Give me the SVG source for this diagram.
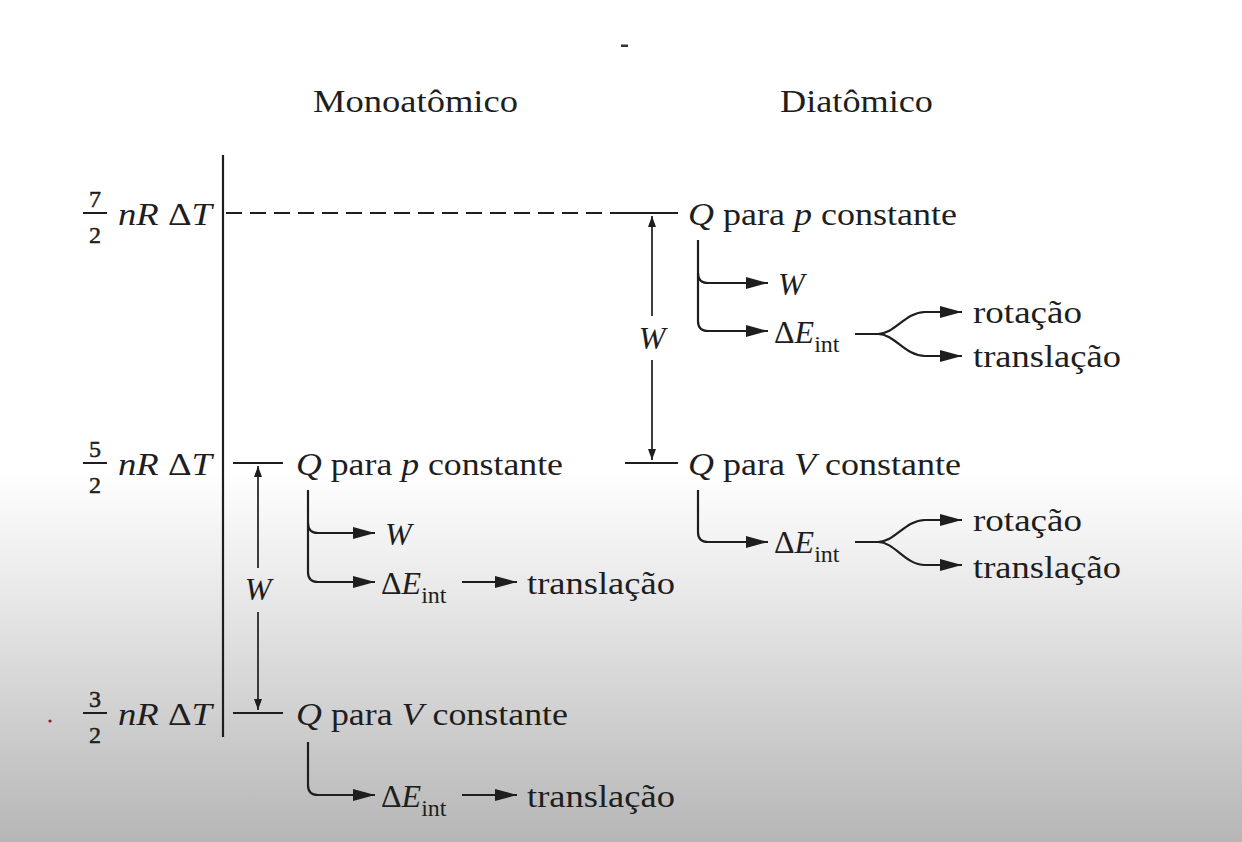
<svg xmlns="http://www.w3.org/2000/svg" width="1242" height="842" viewBox="0 0 1242 842">
<defs>
<linearGradient id="bg" x1="0" y1="0" x2="0" y2="1">
<stop offset="0" stop-color="#ffffff"/>
<stop offset="0.56" stop-color="#ffffff"/>
<stop offset="0.72" stop-color="#e6e6e6"/>
<stop offset="1" stop-color="#b6b6b6"/>
</linearGradient>
<marker id="ah" markerUnits="userSpaceOnUse" markerWidth="24" markerHeight="16" refX="22" refY="8" orient="auto">
<path d="M0,2 L22,8 L0,14 z" fill="#1e1e1e"/>
</marker>
<marker id="as" markerUnits="userSpaceOnUse" markerWidth="12" markerHeight="10" refX="11" refY="5" orient="auto">
<path d="M0,1 L11,5 L0,9 z" fill="#1e1e1e"/>
</marker>
<style>
text{font-family:'Liberation Serif','Tinos','Times New Roman','DejaVu Serif','Noto Serif',serif;fill:#1e1e1e}
.t{font-size:32px}
.h{font-size:31px}
.fr{font-size:24px;text-anchor:middle;stroke:#1e1e1e;stroke-width:0.5}
.i{font-style:italic}
.sub{font-size:24px}
.ln{stroke:#1e1e1e;stroke-width:2.2;fill:none}
.thin{stroke:#2a2a2a;stroke-width:1.8;fill:none}
.dash{stroke:#1e1e1e;stroke-width:2.2;stroke-dasharray:16 8;fill:none}
</style>
</defs>
<rect width="1242" height="842" fill="url(#bg)"/>
<rect x="621" y="44.5" width="7" height="2.5" fill="#333"/>
<circle cx="50" cy="721" r="1.6" fill="#8b1a1a"/>

<g font-family="Liberation Serif, Times New Roman, serif">
<g id="headers">
<text class="h" x="313" y="112" textLength="205" lengthAdjust="spacingAndGlyphs">Monoatômico</text>
<text class="h" x="780" y="112" textLength="153" lengthAdjust="spacingAndGlyphs">Diatômico</text>
</g>

<g id="level-72">
<text class="fr" x="95" y="207">7</text>
<line x1="83" y1="213" x2="107" y2="213" stroke="#1e1e1e" stroke-width="2"/>
<text class="fr" x="95" y="243">2</text>
<text class="t" x="118" y="225" textLength="94" lengthAdjust="spacingAndGlyphs"><tspan class="i">nR</tspan> Δ<tspan class="i">T</tspan></text>
</g>
<g id="level-52">
<text class="fr" x="95" y="457">5</text>
<line x1="83" y1="463" x2="107" y2="463" stroke="#1e1e1e" stroke-width="2"/>
<text class="fr" x="95" y="493">2</text>
<text class="t" x="118" y="475" textLength="94" lengthAdjust="spacingAndGlyphs"><tspan class="i">nR</tspan> Δ<tspan class="i">T</tspan></text>
</g>
<g id="level-32">
<text class="fr" x="95" y="707">3</text>
<line x1="83" y1="713" x2="107" y2="713" stroke="#1e1e1e" stroke-width="2"/>
<text class="fr" x="95" y="743">2</text>
<text class="t" x="118" y="725" textLength="94" lengthAdjust="spacingAndGlyphs"><tspan class="i">nR</tspan> Δ<tspan class="i">T</tspan></text>
</g>

<g id="dia-qp">
<text class="t" x="688" y="225" textLength="269" lengthAdjust="spacingAndGlyphs"><tspan class="i">Q</tspan> para <tspan class="i">p</tspan> constante</text>
</g>
<g id="dia-w">
<text class="t i" x="778" y="295">W</text>
</g>
<g id="dia-eint1">
<text class="t" x="774" y="343">Δ<tspan class="i">E</tspan><tspan class="sub" dy="9">int</tspan></text>
</g>
<g id="dia-rot1"><text class="t" x="973" y="323" textLength="109" lengthAdjust="spacingAndGlyphs">rotação</text></g>
<g id="dia-tra1"><text class="t" x="973" y="367" textLength="148" lengthAdjust="spacingAndGlyphs">translação</text></g>

<g id="dia-qv">
<text class="t" x="688" y="475" textLength="273" lengthAdjust="spacingAndGlyphs"><tspan class="i">Q</tspan> para <tspan class="i">V</tspan> constante</text>
</g>
<g id="dia-eint2">
<text class="t" x="774" y="553">Δ<tspan class="i">E</tspan><tspan class="sub" dy="9">int</tspan></text>
</g>
<g id="dia-rot2"><text class="t" x="973" y="531" textLength="109" lengthAdjust="spacingAndGlyphs">rotação</text></g>
<g id="dia-tra2"><text class="t" x="973" y="578" textLength="148" lengthAdjust="spacingAndGlyphs">translação</text></g>
<g id="dia-wlabel"><text class="t i" x="652" y="349" text-anchor="middle">W</text></g>

<g id="mono-qp">
<text class="t" x="296" y="475" textLength="267" lengthAdjust="spacingAndGlyphs"><tspan class="i">Q</tspan> para <tspan class="i">p</tspan> constante</text>
</g>
<g id="mono-w"><text class="t i" x="385" y="545">W</text></g>
<g id="mono-eint1">
<text class="t" x="381" y="594">Δ<tspan class="i">E</tspan><tspan class="sub" dy="9">int</tspan></text>
</g>
<g id="mono-tra1"><text class="t" x="527" y="594" textLength="148" lengthAdjust="spacingAndGlyphs">translação</text></g>
<g id="mono-wlabel"><text class="t i" x="258" y="600" text-anchor="middle">W</text></g>

<g id="mono-qv">
<text class="t" x="296" y="725" textLength="272" lengthAdjust="spacingAndGlyphs"><tspan class="i">Q</tspan> para <tspan class="i">V</tspan> constante</text>
</g>
<g id="mono-eint2">
<text class="t" x="381" y="807">Δ<tspan class="i">E</tspan><tspan class="sub" dy="9">int</tspan></text>
</g>
<g id="mono-tra2"><text class="t" x="527" y="807" textLength="148" lengthAdjust="spacingAndGlyphs">translação</text></g>
</g>

<g id="connectors">
<line class="ln" x1="223" y1="155" x2="223" y2="737"/>
<line class="dash" x1="226" y1="213" x2="625" y2="213"/>
<line class="ln" x1="625" y1="213" x2="678" y2="213"/>
<line class="ln" x1="625" y1="463" x2="678" y2="463"/>
<line class="ln" x1="233" y1="463" x2="283" y2="463"/>
<line class="ln" x1="233" y1="713" x2="283" y2="713"/>

<line class="thin" x1="652" y1="316" x2="652" y2="216" marker-end="url(#as)"/>
<line class="thin" x1="652" y1="360" x2="652" y2="460" marker-end="url(#as)"/>
<line class="thin" x1="258" y1="568" x2="258" y2="466" marker-end="url(#as)"/>
<line class="thin" x1="258" y1="612" x2="258" y2="710" marker-end="url(#as)"/>

<path class="ln" d="M698,240 V321 Q698,331 708,331 H768" marker-end="url(#ah)"/>
<path class="ln" d="M698,273 Q698,283 708,283 H768" marker-end="url(#ah)"/>
<path class="ln" d="M855,334 H878 C895,334 905,312 925,312 H962" marker-end="url(#ah)"/>
<path class="ln" d="M878,334 C895,334 905,356 925,356 H962" marker-end="url(#ah)"/>

<path class="ln" d="M698,490 V532 Q698,542 708,542 H768" marker-end="url(#ah)"/>
<path class="ln" d="M855,542 H878 C895,542 905,520 925,520 H962" marker-end="url(#ah)"/>
<path class="ln" d="M878,542 C895,542 905,565 925,565 H962" marker-end="url(#ah)"/>

<path class="ln" d="M308,490 V572 Q308,582 318,582 H375" marker-end="url(#ah)"/>
<path class="ln" d="M308,523 Q308,533 318,533 H375" marker-end="url(#ah)"/>
<line class="ln" x1="462" y1="582" x2="517" y2="582" marker-end="url(#ah)"/>

<path class="ln" d="M308,742 V785 Q308,795 318,795 H375" marker-end="url(#ah)"/>
<line class="ln" x1="462" y1="795" x2="517" y2="795" marker-end="url(#ah)"/>
</g>
</svg>
